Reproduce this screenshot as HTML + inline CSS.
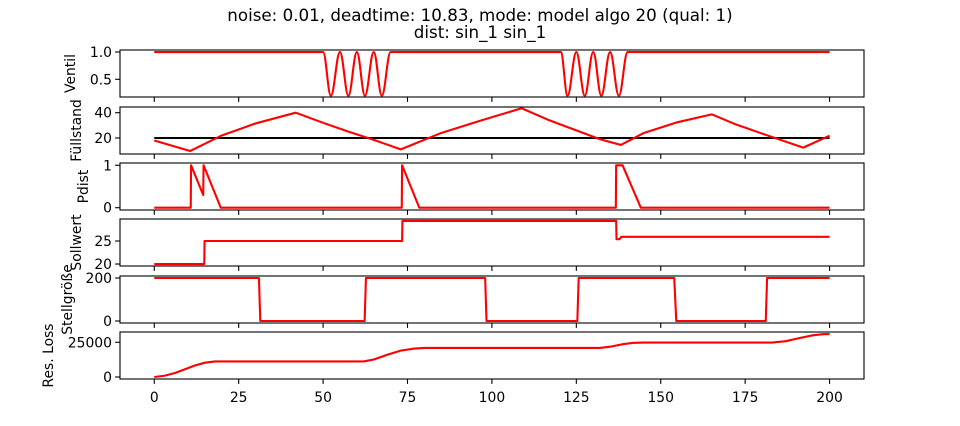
<!DOCTYPE html>
<html><head><meta charset="utf-8"><style>
html,body{margin:0;padding:0;background:#fff}
svg{display:block;font-family:"DejaVu Sans","Liberation Sans",sans-serif}
</style></head><body>
<svg id="chart" width="960" height="426" viewBox="0 0 960 426" xmlns="http://www.w3.org/2000/svg">
<text x="480" y="21" font-size="16.7" text-anchor="middle">noise: 0.01, deadtime: 10.83, mode: model algo 20 (qual: 1)</text>
<text x="480" y="38" font-size="16.7" text-anchor="middle">dist: sin_1 sin_1</text>
<g id="plots"></g>
</svg>
<script>
// ---- data ----
const xTicks = [0, 25, 50, 75, 100, 125, 150, 175, 200];
const ventilX = [0, 50, 52.3, 55, 57.5, 60, 62.4, 65, 67.4, 70, 120.4, 122.4, 125, 127.5, 130, 132.4, 135, 137.6, 140.2, 200];
const ventilY = [1, 1, 0.2, 1, 0.2, 1, 0.2, 1, 0.2, 1, 1, 0.2, 1, 0.2, 1, 0.2, 1, 0.2, 1, 1];
const levelX = [0, 10.6, 20, 30, 41.9, 50, 57.5, 65, 73, 85, 97, 108.8, 117, 125, 132, 138.2, 145, 155, 165.1, 172, 180, 192.2, 200];
const levelY = [18, 9.7, 22, 31.5, 40, 32, 25, 18.5, 11, 24, 34, 43.5, 34, 26, 19, 14.5, 24, 32.5, 38.7, 31, 23.5, 12.4, 21.8];
const setpointX = [0, 200];
const setpointY = [20, 20];
const pdistX = [0, 10.8, 10.9, 14.5, 14.6, 19.7, 73.3, 73.4, 78.5, 136.7, 136.8, 138.7, 144.1, 200];
const pdistY = [0, 0, 1, 0.3, 1, 0, 0, 1, 0, 0, 1, 1, 0, 0];
const sollX = [0, 14.8, 14.9, 73.4, 73.5, 136.8, 136.9, 137.8, 138.3, 200];
const sollY = [20, 20, 25, 25, 29.35, 29.35, 25.4, 25.4, 25.9, 25.9];
const stellX = [0, 31.0, 31.4, 62.3, 62.7, 98.0, 98.4, 125.3, 125.7, 154.0, 154.6, 181.1, 181.5, 200];
const stellY = [200, 200, 0, 0, 200, 200, 0, 0, 200, 200, 0, 0, 200, 200];
const lossX = [0, 3, 6, 9, 12, 15, 18, 62, 65, 69, 73, 77, 80, 132, 135, 139, 142, 145, 183, 187, 191, 195, 198, 200];
const lossY = [0, 900, 2800, 5500, 8300, 10300, 11200, 11200, 12600, 16000, 19000, 20500, 20900, 20900, 21800, 23700, 24600, 24800, 24800, 25800, 28000, 30000, 30800, 30900];

const rows = [
  {name:'ventil', label:'Ventil', lx:75, top:50, ymin:0.176, ymax:1.037, ticks:[0.5,1.0], tl:['0.5','1.0'],
   series:[{x:ventilX,y:ventilY,c:'#ff0000',smooth:true}]},
  {name:'fuellstand', label:'Füllstand', lx:81, top:107, ymin:7.35, ymax:44.5, ticks:[20,40], tl:['20','40'],
   series:[{x:setpointX,y:setpointY,c:'#000000'},{x:levelX,y:levelY,c:'#ff0000'}]},
  {name:'pdist', label:'Pdist', lx:88, top:163, ymin:-0.054, ymax:1.054, ticks:[0,1], tl:['0','1'],
   series:[{x:pdistX,y:pdistY,c:'#ff0000'}]},
  {name:'sollwert', label:'Sollwert', lx:81, top:219, ymin:19.57, ymax:29.78, ticks:[20,25], tl:['20','25'],
   series:[{x:sollX,y:sollY,c:'#ff0000'}]},
  {name:'stellgroesse', label:'Stellgröße', lx:72, top:276, ymin:-9.3, ymax:209.3, ticks:[0,200], tl:['0','200'],
   series:[{x:stellX,y:stellY,c:'#ff0000'}]},
  {name:'res-loss', label:'Res. Loss', lx:53, top:332, ymin:-1440, ymax:32400, ticks:[0,25000], tl:['0','25000'],
   series:[{x:lossX,y:lossY,c:'#ff0000'}]}
];
const L = 120, R = 864, H = 47, XMIN = -10.15, XMAX = 210.2;
const NS = 'http://www.w3.org/2000/svg';
const sx = v => L + (v - XMIN) / (XMAX - XMIN) * (R - L);
const root = document.getElementById('plots');
function mk(tag, attrs, parent){ const e=document.createElementNS(NS,tag); for(const k in attrs) e.setAttribute(k,attrs[k]); parent.appendChild(e); return e; }

rows.forEach((r, ri) => {
  const sy = v => r.top + (r.ymax - v) / (r.ymax - r.ymin) * H;
  const g = mk('g', {}, root);
  
  
  r.series.forEach((s, si) => {
    let d = '';
    for (let i = 0; i < s.x.length; i++) {
      const X = sx(s.x[i]), Y = sy(s.y[i]);
      if (i === 0) d += 'M' + X.toFixed(2) + ' ' + Y.toFixed(2);
      else if (s.smooth) {
        const X0 = sx(s.x[i-1]), Y0 = sy(s.y[i-1]), dx = (X - X0) / 2.6;
        d += ' C' + (X0+dx).toFixed(2) + ' ' + Y0.toFixed(2) + ' ' + (X-dx).toFixed(2) + ' ' + Y.toFixed(2) + ' ' + X.toFixed(2) + ' ' + Y.toFixed(2);
      } else d += ' L' + X.toFixed(2) + ' ' + Y.toFixed(2);
    }
    const p = mk('path', {d:d, fill:'none', stroke:s.c, 'stroke-width':2.1, 'stroke-linejoin':'round'}, g);
    
    
  });
  const fr = mk('rect', {x:L, y:r.top, width:R-L, height:H, fill:'none', stroke:'#000', 'stroke-width':1.1}, g);
  
  
  xTicks.forEach(t => {
    const X = sx(t);
    mk('line', {x1:X, x2:X, y1:r.top+H, y2:r.top+H+4.9, stroke:'#000', 'stroke-width':1.1}, g);
    if (ri === rows.length - 1) {
      const tx = mk('text', {x:X, y:r.top+H+23, 'font-size':13.9, 'text-anchor':'middle'}, g);
      tx.textContent = String(t);
      
      
    }
  });
  r.ticks.forEach((t, ti) => {
    const Y = sy(t);
    mk('line', {x1:L-4.9, x2:L, y1:Y, y2:Y, stroke:'#000', 'stroke-width':1.1}, g);
    const tx = mk('text', {x:L-8, y:Y+5, 'font-size':13.9, 'text-anchor':'end'}, g);
    tx.textContent = r.tl[ti];
    
    
  });
  const cy = r.top + H/2;
  const lb = mk('text', {x:r.lx, y:cy, 'font-size':13.9, 'text-anchor':'middle', transform:'rotate(-90 '+r.lx+' '+cy+')'}, g);
  lb.textContent = r.label;
  
  
});
</script>
</body></html>
